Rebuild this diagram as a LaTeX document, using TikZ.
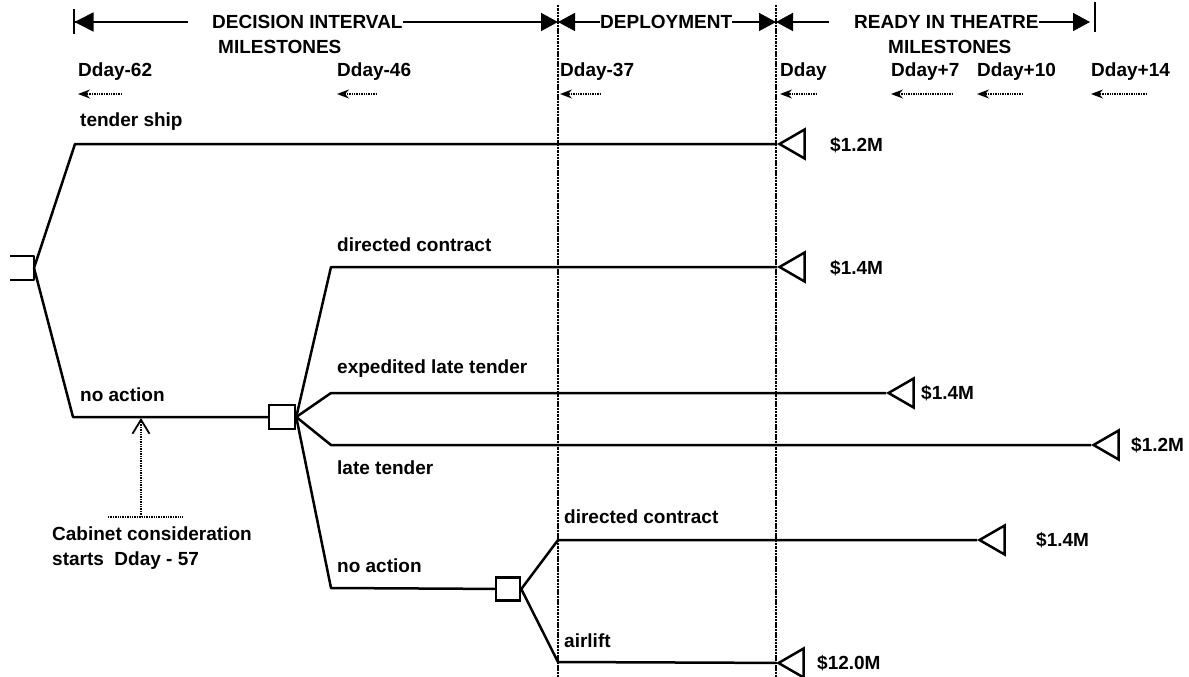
\documentclass[tikz,border=0pt]{standalone}
\usepackage{fontspec}
\setmainfont{Liberation Sans}
\usetikzlibrary{arrows.meta,shapes.geometric}

\tikzset{
  txt/.style={font=\bfseries\fontsize{19}{25}\selectfont, inner sep=0pt, anchor=west},
  hline/.style={line width=1.5pt},
  phase/.style={dash pattern=on 2.5pt off 0.8pt, line width=2.2pt},
  branch/.style={line width=2.5pt, line join=round},
  decision/.style={draw, fill=white, line width=2.5pt, minimum width=26pt, minimum height=24pt, inner sep=0pt},
  payoff/.style={isosceles triangle, shape border rotate=180, isosceles triangle apex angle=60,
    draw, fill=white, line width=2.5pt, minimum height=25pt, minimum width=26pt, inner sep=0pt, anchor=apex},
  msarrow/.style={densely dotted, line width=1.4pt, -{Stealth[length=12pt,width=9pt]}}
}

\begin{document}
\begin{tikzpicture}[x=1pt,y=-1pt]
    \useasboundingbox (0,0) rectangle (1189,677);

    % Phase boundaries
    \draw[phase] (558,5) -- (558,677);
    \draw[phase] (776,5) -- (776,677);

    % Phases
    \node[txt] (di) at (212,22) {DECISION INTERVAL};
    \node[txt] (dims) at (218,47) {MILESTONES};
    \draw[hline, {Bar[width=25pt]Triangle[length=19pt,width=19pt]}-] (73,22) -- (188,22);
    \draw[hline, -{Triangle[length=17pt,width=18pt]}] (di.east) -- (558,22);
    \node[txt] (dep) at (600,22) {DEPLOYMENT};
    \draw[hline, {Triangle[length=17pt,width=18pt]}-] (558,22) -- (dep.west);
    \draw[hline, -{Triangle[length=17pt,width=18pt]}] (dep.east) -- (776,22);
    \node[txt] (rit) at (854,22) {READY IN THEATRE};
    \node[txt] (rims) at (888,47) {MILESTONES};
    \draw[hline, {Triangle[length=17pt,width=18pt]}-] (776,22) -- (829,22);
    \draw[hline, -{Triangle[length=17pt,width=18pt]}] (rit.east) -- (1090,22);
    \draw[hline, line width=1.8pt] (1095,2) -- (1095,32);

    % Milestones
    \foreach \x/\w/\lab [count=\i] in {78/44/Dday-62, 337/40/Dday-46, 560/41/Dday-37,
        780/37/Dday, 891/62/Dday+7, 977/46/Dday+10, 1091/56/Dday+14} {
        \node[txt] (ms\i) at (\x,72) {\lab};
        \draw[msarrow] (\x+\w,94) -- (\x,94);
    }

    % First decision
    \draw[branch] (10,256) -- (34,256) -- (34,280) -- (10,280);
    \coordinate (root) at (34,268);
    \node[payoff] (t1) at (777,144) {};
    \node[txt] at (80,122) {tender ship};
    \node[txt] at (830,145) {\$1.2M};
    \draw[branch] (root) -- (75,144) -- (t1);

    \node[decision] (d2) at (282,417) {};
    \node[txt] at (80,395) {no action};
    \draw[branch] (root) -- (73,417) -- (d2);

    % Second decision
    \node[payoff] (t2) at (777,267) {};
    \node[txt] at (337,245) {directed contract};
    \node[txt] at (830,268) {\$1.4M};
    \draw[branch] (d2.east) -- (331,267) -- (t2);

    \node[payoff] (t3) at (886,393) {};
    \node[txt] at (337,369) {expedited late tender};
    \node[txt] at (921,393) {\$1.4M};
    \draw[branch] (d2.east) -- (331,393) -- (t3);

    \node[payoff] (t4) at (1091,445) {};
    \node[txt] at (1131,445) {\$1.2M};
    \node[txt] at (337,468) {late tender};
    \draw[branch] (d2.east) -- (331,445) -- (t4);

    \node[decision, minimum width=24pt, minimum height=23pt] (d3) at (508,589) {};
    \node[txt] at (337,566) {no action};
    \draw[branch] (d2.east) -- (331,588) -- (d3);

    % Third decision
    \node[payoff] (t5) at (977,540) {};
    \node[txt] at (564,517) {directed contract};
    \node[txt] at (1036,540) {\$1.4M};
    \draw[branch] (d3.east) -- (558,540) -- (t5);

    \node[payoff] (t6) at (776,663) {};
    \node[txt] at (564,641) {airlift};
    \node[txt] at (817,663) {\$12.0M};
    \draw[branch] (d3.east) -- (558,662) -- (t6);

    % Cabinet note
    \coordinate (cabfoot) at (141,517);
    \coordinate (cabtip) at (141,418);
    \draw[densely dotted, line width=1.4pt, -{Straight Barb[length=14pt,width=17pt,line width=1.8pt]}] (cabfoot) -- (cabtip);
    \draw[densely dotted, line width=1.4pt] (108,517) -- (183,517);
    \node[txt, align=left, anchor=north west] (cab) at (52,527) {Cabinet consideration\\starts\ \ Dday - 57};
\end{tikzpicture}
\end{document}
